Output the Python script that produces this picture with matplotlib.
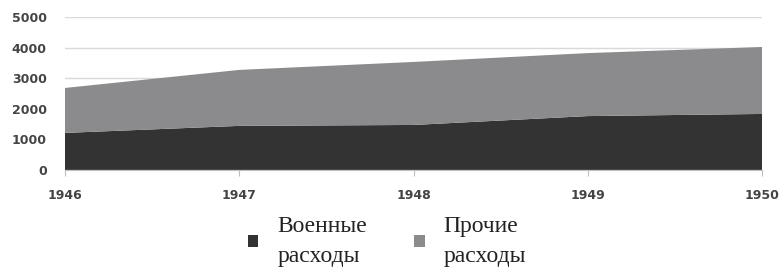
import numpy as np
import matplotlib.pyplot as plt
from matplotlib.patches import Patch

years = [1946, 1947, 1948, 1949, 1950]
military = [1210, 1440, 1470, 1760, 1830]
other = [1470, 1830, 2060, 2060, 2190]
labels = ['Военные\nрасходы', 'Прочие\nрасходы']
colors = ['#333333', '#8b8b8d']

fig = plt.figure(figsize=(7.81, 2.68), dpi=100)
ax = fig.add_axes([0.0832, 0.366, 0.8925, 0.5706])

ax.stackplot(years, military, other, colors=colors, zorder=2)

ax.set_xlim(1946, 1950)
ax.set_ylim(0, 5000)
ax.set_xticks(years)
ax.set_yticks(range(0, 5001, 1000))
ax.grid(axis='y', color='#d9d9d9', linewidth=1, zorder=0)
for s in ['top', 'right', 'left']:
    ax.spines[s].set_visible(False)
ax.spines['bottom'].set_color('#bfbfbf')
ax.tick_params(axis='y', length=0, pad=13)
ax.tick_params(axis='x', length=4, color='#bfbfbf', pad=10)
for lab in ax.get_xticklabels() + ax.get_yticklabels():
    lab.set_fontweight('bold')
    lab.set_fontsize(9)
    lab.set_color('#444444')

handles = [Patch(facecolor=c, edgecolor='none') for c in colors]
leg = fig.legend(handles, labels, loc='lower left', bbox_to_anchor=(0.29, -0.075), ncol=2,
                 frameon=False, handlelength=0.45, handleheight=0.45, handletextpad=0.8,
                 columnspacing=2.0, prop={'family': 'Liberation Serif', 'size': 17})
for t in leg.get_texts():
    t.set_linespacing(1.55)
    t.set_color('#222222')

plt.savefig('out.png', dpi=100, facecolor='w')
